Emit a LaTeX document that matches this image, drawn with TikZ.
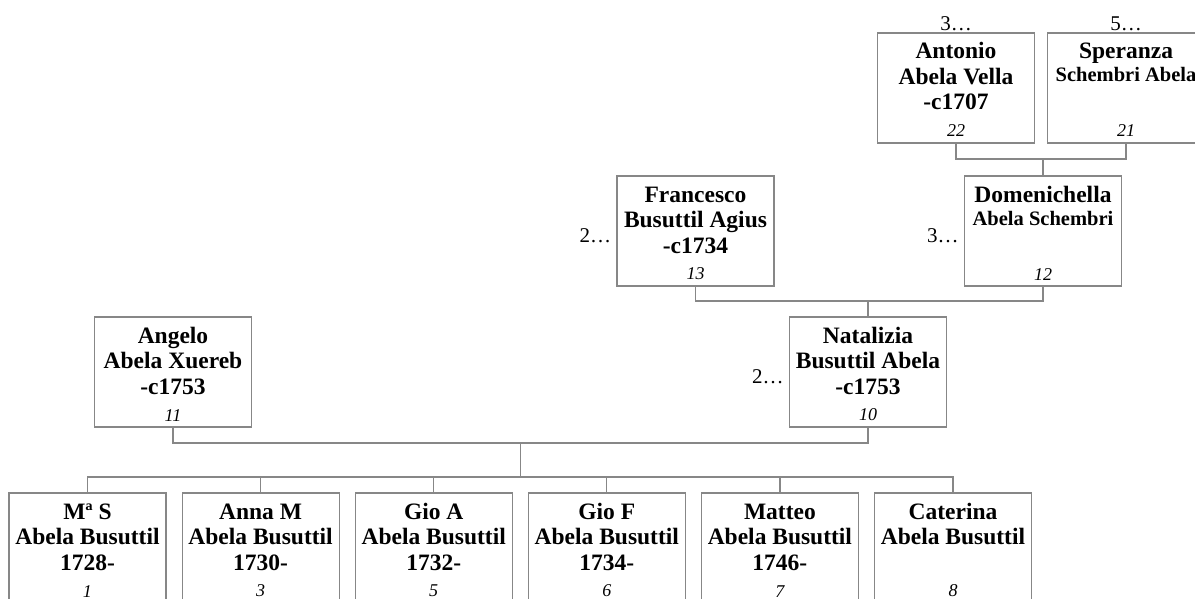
\documentclass[tikz,border=0pt]{standalone}
\usepackage{fontspec}
\setmainfont{Liberation Serif}
\usepackage{tikz}

\definecolor{linegray}{RGB}{135,135,135}

\newcommand{\famcard}[2]{%
  \parbox[c][110pt][s]{157pt}{\centering\bfseries\fontsize{23.5}{25.5}\selectfont
    \rule{0pt}{26pt}#1\par\vfill
    {\mdseries\itshape\fontsize{18}{18}\selectfont #2\par}\kern6pt}}

\begin{document}
\begin{tikzpicture}[
	  x=1pt, y=-1pt,
	  person/.style={draw=linegray, line width=1.2pt, inner sep=0pt},
	  link/.style={draw=linegray, line width=1.2pt},
	  moreanc/.style={inner sep=0pt, font=\fontsize{21}{21}\selectfont},
	]

	\useasboundingbox (0,0) rectangle (1195,599);
	\clip (0,0) rectangle (1195,599);

	\node [person] (n22) at (956,88) {\famcard{Antonio\\Abela Vella\\-c1707}{22}};
	\node [person] (n21) at (1126,88) {\famcard{Speranza\\[-2.5pt]{\fontsize{20.5}{23}\selectfont Schembri Abela}}{21}};
	\node [moreanc, anchor=base] (a22) at ([yshift=2pt]n22.north) {3…};
	\node [moreanc, anchor=base] (a21) at ([yshift=2pt]n21.north) {5…};

	\node [person] (n13) at (695.5,231) {\famcard{Francesco\\Busuttil Agius\\-c1734}{13}};
	\node [person] (n12) at (1043,231) {\famcard{Domenichella\\[-2.5pt]{\fontsize{20.5}{23}\selectfont Abela Schembri}}{12}};
	\node [moreanc, anchor=base east] (a13) at ([xshift=-5pt,yshift=-11pt]n13.west) {2…};
	\node [moreanc, anchor=base east] (a12) at ([xshift=-5pt,yshift=-11pt]n12.west) {3…};

	\node [person] (n11) at (173,372) {\famcard{Angelo\\Abela Xuereb\\-c1753}{11}};
	\node [person] (n10) at (868,372) {\famcard{Natalizia\\Busuttil Abela\\-c1753}{10}};
	\node [moreanc, anchor=base east] (a10) at ([xshift=-5pt,yshift=-11pt]n10.west) {2…};

	% children
	\node [person] (c1) at (87.5,548) {\famcard{Mª S\\Abela Busuttil\\1728-}{1}};
	\node [person] (c2) at (260.6,548) {\famcard{Anna M\\Abela Busuttil\\1730-}{3}};
	\node [person] (c3) at (433.7,548) {\famcard{Gio A\\Abela Busuttil\\1732-}{5}};
	\node [person] (c4) at (606.8,548) {\famcard{Gio F\\Abela Busuttil\\1734-}{6}};
	\node [person] (c5) at (779.9,548) {\famcard{Matteo\\Abela Busuttil\\1746-}{7}};
	\node [person] (c6) at (953,548) {\famcard{Caterina\\Abela Busuttil}{8}};

	% lines
	\coordinate (j1) at (1043,159);
	\coordinate (j2) at (868,301);
	\coordinate (j3) at (520.3,443);
	\coordinate (j4) at (520.3,477);
	\draw [link] (n22.south) |- (j1) -| (n21.south);
	\draw [link] (j1) -- (n12.north);
	\draw [link] (n13.south) |- (j2) -| (n12.south);
	\draw [link] (j2) -- (n10.north);
	\draw [link] (n11.south) |- (j3) -| (n10.south);
	\draw [link] (j3) -- (j4);
	\draw [link] (c1.north) |- (j4) -| (c6.north);
	\draw [link] (c2.north) -- (c2.north |- j4);
	\draw [link] (c3.north) -- (c3.north |- j4);
	\draw [link] (c4.north) -- (c4.north |- j4);
	\draw [link] (c5.north) -- (c5.north |- j4);
\end{tikzpicture}
\end{document}
